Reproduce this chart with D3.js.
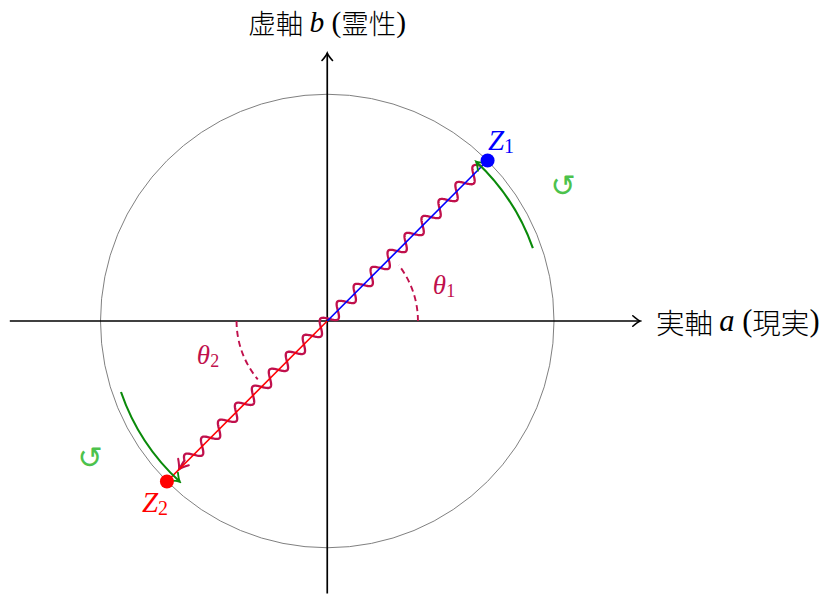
<!DOCTYPE html>
<html><head><meta charset="utf-8">
<script src="https://cdn.jsdelivr.net/npm/d3@7"></script>
<style>body{margin:0;background:#fff}svg{display:block}</style>
</head><body><svg id="c" width="824" height="594"></svg>
<script>
// ---- data ----
const pointNames = ["Z", "Z"];
const pointSubs = ["1", "2"];
const pointAngles = [45, 225];      // degrees
const pointModuli = [1, 1];
const angleNames = ["θ", "θ"];
const angleSubs = ["1", "2"];
const angleArcs = [[0, 38], [180, 220]];   // degrees
const rotationArcs = [[19.5, 47], [199, 227.5]];
const axisNames = ["実軸", "虚軸"];
const axisVars = ["a", "b"];
const axisNotes = ["現実", "霊性"];
const xAxisExtent = [-1.4, 1.38];
const yAxisExtent = [-1.2, 1.18];

// ---- setup ----
const svg = d3.select("#c");
const x = d3.scaleLinear().domain([-1, 1]).range([100.5, 554]);
const y = d3.scaleLinear().domain([-1, 1]).range([548, 94]);
const R = x(1) - x(0);
const cx = x(0), cy = y(0);
const rad = d => d * Math.PI / 180;
const pt = (r, deg) => [x(r * Math.cos(rad(deg))), y(r * Math.sin(rad(deg)))];

const PURPLE = "#c0104c", GREEN = "#0a8a0a", LGREEN = "#4cc24c";
const serif = "'Liberation Serif','DejaVu Serif',serif";
const cjk = "'Noto Sans CJK JP','Noto Sans CJK SC',sans-serif";

const defs = svg.append("defs");
function marker(id, color, w, s) {
  defs.append("marker").attr("id", id).attr("viewBox", "-12 -8 14 16")
    .attr("refX", 0).attr("refY", 0).attr("markerWidth", 14).attr("markerHeight", 16)
    .attr("markerUnits", "userSpaceOnUse").attr("orient", "auto")
    .append("path").attr("d", `M${-7*s},${-5*s} Q${-2.5*s},${-1*s} 0,0 Q${-2.5*s},${1*s} ${-7*s},${5*s}`)
    .attr("fill", "none").attr("stroke", color).attr("stroke-width", w).attr("stroke-linecap", "round");
}
marker("arK", "#000", 1.6, 1.05);
marker("arG", GREEN, 1.8, 1.1);
marker("arP", PURPLE, 2, 1.25);

// circle
svg.append("circle").attr("cx", cx).attr("cy", cy).attr("r", R)
  .attr("fill", "none").attr("stroke", "#808080").attr("stroke-width", 1);

// axes
svg.append("line").attr("x1", x(xAxisExtent[0])).attr("y1", cy).attr("x2", x(xAxisExtent[1])).attr("y2", cy)
  .attr("stroke", "#000").attr("stroke-width", 1.7).attr("marker-end", "url(#arK)");
svg.append("line").attr("x1", cx).attr("y1", y(yAxisExtent[0])).attr("x2", cx).attr("y2", y(yAxisExtent[1]))
  .attr("stroke", "#000").attr("stroke-width", 1.7).attr("marker-end", "url(#arK)");

function axisLabel(i, tx, ty, anchor, fs) {
  const t = svg.append("text").attr("x", tx).attr("y", ty).attr("text-anchor", anchor)
    .attr("dominant-baseline", "central").attr("font-size", fs).attr("fill", "#000");
  t.append("tspan").attr("font-family", cjk).attr("font-weight", 300).text(axisNames[i] + " ");
  t.append("tspan").attr("font-family", serif).attr("font-style", "italic").attr("font-size", fs + 2).text(axisVars[i]);
  t.append("tspan").attr("font-family", serif).attr("font-size", fs + 2).text(" (");
  t.append("tspan").attr("font-family", cjk).attr("font-weight", 300).text(axisNotes[i]);
  t.append("tspan").attr("font-family", serif).attr("font-size", fs + 2).text(")");
}
axisLabel(0, 656, cy, "start", 28.5);
axisLabel(1, cx, 22, "middle", 27.5);

// dashed angle arcs
angleArcs.forEach(([a0, a1]) => {
  const p = d3.path();
  p.arc(cx, cy, 0.4 * R, -rad(a0), -rad(a1), true);
  svg.append("path").attr("d", p.toString()).attr("fill", "none")
    .attr("stroke", PURPLE).attr("stroke-width", 1.9).attr("stroke-dasharray", "6,4");
});

// snake (wavy) line from Z1 towards Z2
(function () {
  const [sx, sy] = pt(0.965 * pointModuli[0], pointAngles[0]);
  const [ex, ey] = pt(0.925 * pointModuli[1], pointAngles[1]);
  const L = Math.hypot(ex - sx, ey - sy);
  const ux = (ex - sx) / L, uy = (ey - sy) / L, nx = -uy, ny = ux;
  const amp = 6.5, lam = 24, tail = 10;
  const pts = d3.range(0, L - tail + 0.01, 0.5).map(s => {
    const o = amp * Math.sin(2 * Math.PI * s / lam);
    return [sx + ux * s + nx * o, sy + uy * s + ny * o];
  });
  pts.push([ex, ey]);
  svg.append("path").attr("d", d3.line()(pts)).attr("fill", "none")
    .attr("stroke", PURPLE).attr("stroke-width", 2.3).attr("marker-end", "url(#arP)");
})();

// radius lines
const lineColors = ["#0000ff", "#ff0000"];
pointAngles.forEach((a, i) => {
  const [px, py] = pt(pointModuli[i], a);
  svg.append("line").attr("x1", cx).attr("y1", cy).attr("x2", px).attr("y2", py)
    .attr("stroke", lineColors[i]).attr("stroke-width", 1.6);
});

// green rotation arcs
rotationArcs.forEach(([a0, a1]) => {
  const p = d3.path();
  p.arc(cx, cy, 0.962 * R, -rad(a0), -rad(a1), true);
  svg.append("path").attr("d", p.toString()).attr("fill", "none")
    .attr("stroke", GREEN).attr("stroke-width", 2.1).attr("marker-end", "url(#arG)");
});

// dots
pointAngles.forEach((a, i) => {
  const [px, py] = pt(pointModuli[i], a);
  svg.append("circle").attr("cx", px).attr("cy", py).attr("r", 7).attr("fill", lineColors[i]);
});

// point labels
const pLabelPos = [[501, 140], [155, 502]];
pointNames.forEach((n, i) => {
  const t = svg.append("text").attr("x", pLabelPos[i][0]).attr("y", pLabelPos[i][1])
    .attr("text-anchor", "middle").attr("dominant-baseline", "central")
    .attr("font-family", serif).attr("font-size", 29).attr("fill", lineColors[i]);
  t.append("tspan").attr("font-style", "italic").text(n);
  t.append("tspan").attr("font-size", 20).attr("dy", 6).text(pointSubs[i]);
});

// angle labels
const aLabelPos = [[444, 285], [208, 355]];
angleNames.forEach((n, i) => {
  const t = svg.append("text").attr("x", aLabelPos[i][0]).attr("y", aLabelPos[i][1])
    .attr("text-anchor", "middle").attr("dominant-baseline", "central")
    .attr("font-family", serif).attr("font-size", 27).attr("fill", PURPLE);
  t.append("tspan").attr("font-style", "italic").text(n);
  t.append("tspan").attr("font-size", 18).attr("dy", 6).text(angleSubs[i]);
});

// rotation symbols
const rotPos = [[563, 185], [90, 457]];
rotPos.forEach(([px, py]) => {
  svg.append("text").attr("x", px).attr("y", py).attr("text-anchor", "middle")
    .attr("dominant-baseline", "central").attr("font-family", "'DejaVu Sans',sans-serif")
    .attr("font-size", 30).attr("fill", LGREEN).text("↺");
});
</script></body></html>
